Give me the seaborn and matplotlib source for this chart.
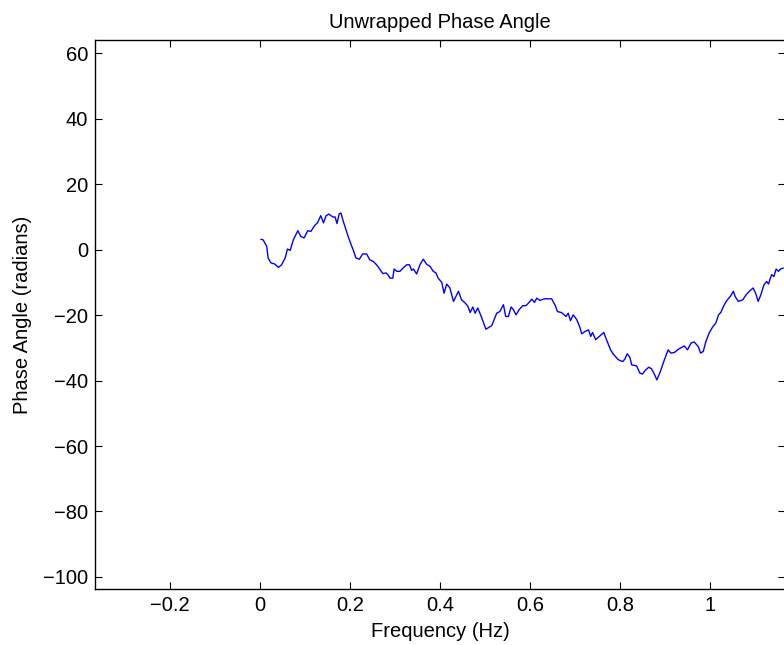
import matplotlib
matplotlib.use("Agg")
import matplotlib.pyplot as plt
import pandas as pd
import seaborn as sns

# Unwrapped phase of the spectrum vs. frequency
freq_hz = [
    0.002, 0.007, 0.015, 0.018, 0.024, 0.033, 0.041, 0.048, 0.056, 0.061,
    0.067, 0.074, 0.084, 0.091, 0.098, 0.106, 0.113, 0.121, 0.128, 0.135,
    0.141, 0.147, 0.153, 0.162, 0.167, 0.171, 0.176, 0.180, 0.185, 0.196,
    0.204, 0.207, 0.213, 0.221, 0.228, 0.237, 0.244, 0.252, 0.259, 0.267,
    0.273, 0.280, 0.284, 0.289, 0.295, 0.298, 0.304, 0.311, 0.318, 0.326,
    0.332, 0.337, 0.341, 0.348, 0.356, 0.363, 0.370, 0.378, 0.385, 0.391,
    0.396, 0.404, 0.409, 0.415, 0.422, 0.430, 0.441, 0.448, 0.456, 0.462,
    0.467, 0.473, 0.478, 0.484, 0.493, 0.502, 0.510, 0.515, 0.526, 0.533,
    0.541, 0.546, 0.552, 0.558, 0.563, 0.569, 0.576, 0.584, 0.591, 0.598,
    0.604, 0.610, 0.615, 0.622, 0.630, 0.633, 0.648, 0.656, 0.661, 0.670,
    0.680, 0.685, 0.690, 0.696, 0.704, 0.710, 0.715, 0.722, 0.730, 0.735,
    0.739, 0.746, 0.754, 0.764, 0.770, 0.779, 0.785, 0.796, 0.806, 0.811,
    0.816, 0.822, 0.826, 0.837, 0.844, 0.850, 0.856, 0.864, 0.870, 0.876,
    0.882, 0.889, 0.898, 0.907, 0.913, 0.921, 0.930, 0.943, 0.950, 0.958,
    0.965, 0.974, 0.979, 0.985, 0.991, 0.998, 1.006, 1.013, 1.019, 1.024,
    1.030, 1.037, 1.046, 1.052, 1.056, 1.063, 1.073, 1.080, 1.089, 1.096,
    1.102, 1.107, 1.113, 1.120, 1.126, 1.130, 1.133, 1.137, 1.142, 1.147,
    1.152, 1.157, 1.163,
]
phase_rad = [
    3.2, 3.0, 1.0, -2.5, -4.0, -4.4, -5.4, -4.6, -2.5, 0.2,
    -0.2, 3.0, 5.8, 4.0, 3.6, 5.8, 5.6, 7.3, 8.3, 10.4,
    8.2, 10.4, 10.9, 10.0, 10.0, 8.0, 11.0, 11.2, 8.7, 4.0,
    1.0, 0.0, -2.5, -2.9, -1.3, -1.3, -3.1, -3.6, -4.6, -6.1,
    -7.3, -7.1, -7.6, -8.7, -8.7, -5.9, -6.6, -6.6, -5.6, -4.6,
    -4.6, -6.3, -5.9, -7.4, -4.4, -2.9, -4.4, -5.1, -6.6, -7.1,
    -8.7, -10.0, -13.3, -10.5, -11.7, -15.8, -12.7, -15.3, -16.3, -17.3,
    -19.2, -17.5, -19.4, -17.8, -20.9, -24.3, -23.6, -23.2, -19.4, -18.9,
    -16.8, -20.4, -20.4, -17.5, -18.3, -19.9, -18.3, -17.1, -17.1, -16.1,
    -15.1, -16.1, -14.8, -15.5, -15.1, -15.0, -15.0, -17.0, -18.9, -19.2,
    -20.4, -19.4, -21.7, -19.9, -21.4, -23.4, -25.7, -25.0, -24.5, -26.5,
    -25.3, -27.5, -26.5, -25.3, -27.5, -30.6, -31.9, -33.6, -34.2, -33.4,
    -31.8, -32.9, -35.2, -35.5, -37.7, -38.0, -36.9, -35.9, -36.4, -37.9,
    -39.8, -37.5, -33.9, -30.6, -31.6, -31.4, -30.4, -29.4, -30.6, -28.5,
    -28.2, -29.6, -31.6, -31.1, -28.0, -25.5, -23.6, -22.4, -19.9, -19.2,
    -17.3, -15.6, -14.1, -12.7, -14.3, -15.8, -15.3, -13.8, -12.5, -11.7,
    -13.5, -15.8, -13.8, -10.7, -9.7, -10.5, -9.2, -7.6, -8.2, -5.9,
    -6.6, -5.9, -5.6,
]
x_ticks = [-0.2, 0, 0.2, 0.4, 0.6, 0.8, 1]
x_tick_labels = ["\u22120.2", "0", "0.2", "0.4", "0.6", "0.8", "1"]
y_ticks = [60, 40, 20, 0, -20, -40, -60, -80, -100]

df = pd.DataFrame({"freq": freq_hz, "phase": phase_rad})

sns.set_style("ticks")
plt.rcParams["font.family"] = ["Liberation Sans", "DejaVu Sans"]
plt.rcParams["axes.unicode_minus"] = True
plt.rcParams["text.color"] = "black"
plt.rcParams["axes.labelcolor"] = "black"

fig = plt.figure(figsize=(7.84, 6.45), dpi=100)
W, H = 784, 645
left, right, top, bottom = 95, 785, 40, 589
ax = fig.add_axes([left / W, 1 - bottom / H, (right - left) / W, (bottom - top) / H])

sns.lineplot(data=df, x="freq", y="phase", ax=ax, color="#0000ff",
             linewidth=1.0, sort=False, estimator=None)

ax.set_xlim(-0.3667, 1.1667)
ax.set_ylim(-103.7, 64.1)
ax.set_xticks(x_ticks)
ax.set_xticklabels(x_tick_labels)
ax.set_yticks(y_ticks)

fs = 14.5
ax.tick_params(direction="in", length=5, width=0.8, colors="black",
               labelcolor="black", labelsize=fs, pad=5, top=True, right=True)
for s in ax.spines.values():
    s.set_visible(True)
    s.set_color("black")
    s.set_linewidth(1.0)

ax.set_title("Unwrapped Phase Angle", fontsize=fs, pad=9, color="black")
ax.set_xlabel("Frequency (Hz)", fontsize=fs, labelpad=5, color="black")
ax.set_ylabel("Phase Angle (radians)", fontsize=fs, labelpad=8, color="black")

fig.savefig("out.png", dpi=100)
